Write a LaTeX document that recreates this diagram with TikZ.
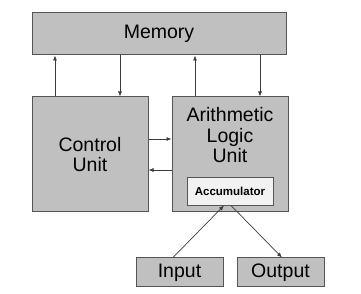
\documentclass[tikz,border=0pt]{standalone}
\usepackage{fontspec}
\setmainfont{Liberation Sans}
\usetikzlibrary{arrows.meta, positioning}
\definecolor{boxgray}{RGB}{192,192,192}
\definecolor{accfill}{RGB}{242,242,242}
\definecolor{edgegray}{RGB}{85,85,85}
\definecolor{arrowgray}{RGB}{60,60,60}

\begin{document}
\begin{tikzpicture}[
      x=1pt, y=1pt,
      node distance=1pt,
      unit/.style={rectangle, draw=edgegray, fill=boxgray, line width=1pt,
                   inner sep=0pt, font=\fontsize{19.5}{20.5}\selectfont, align=center},
      unittext/.style={inner sep=0pt, font=\fontsize{19.5}{20.5}\selectfont, align=center},
      accbox/.style={rectangle, draw=edgegray, fill=accfill, line width=0.8pt,
                     minimum width=86pt, minimum height=28pt, inner sep=0pt,
                     font=\fontsize{11.5}{13}\selectfont\bfseries},
      arr/.style={-{Latex[length=5pt,width=4pt]}, line width=0.7pt, draw=arrowgray}
    ]
    \useasboundingbox (0,0) rectangle (361,294);
    \node[unit, minimum width=254pt, minimum height=42pt] (mem) at (159,260) {Memory};
    \node[unit, minimum width=116pt, minimum height=115pt,
          below=41pt of mem.south west, anchor=north west] (cu) {Control\\Unit};
    \node[unit, minimum width=116pt, minimum height=115pt, right=23pt of cu] (alu) {};
    \node[unittext, below=11pt of alu.north] (alutext) {Arithmetic\\Logic\\Unit};
    \node[accbox, above=7pt of alu.south] (acc) {Accumulator};
    \node[unit, minimum width=87pt, minimum height=29pt] (input) at (179.5,21.5) {Input};
    \node[unit, minimum width=87pt, minimum height=29pt, right=13pt of input] (output) {Output};
    \foreach \u in {cu,alu} {
      \coordinate (\u-up) at ([xshift=-35pt]\u.north);
      \coordinate (\u-down) at ([xshift=30pt]\u.north);
      \draw[arr] (\u-up) -- (\u-up |- mem.south);
      \draw[arr] (\u-down |- mem.south) -- (\u-down);
    }
    \draw[arr] ([yshift=15.5pt]cu.east) -- ([yshift=15.5pt]alu.west);
    \draw[arr] ([yshift=-15.5pt]alu.west) -- ([yshift=-15.5pt]cu.east);
    \draw[arr] ([xshift=-6.5pt]input.north) -- ([xshift=-6pt]acc.south);
    \draw[arr] ([xshift=1pt]acc.south) -- ([xshift=1.5pt]output.north);
  \end{tikzpicture}
\end{document}
